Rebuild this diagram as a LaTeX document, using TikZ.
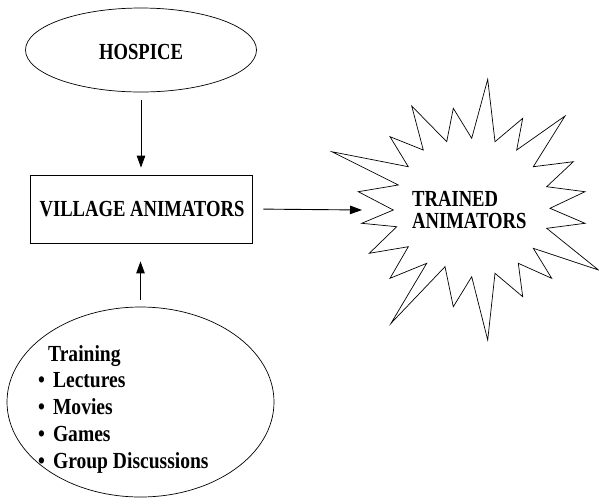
\documentclass[tikz,border=0pt]{standalone}
\usepackage{fontspec}
\setmainfont{Liberation Serif}[FakeStretch=0.81]
\newfontfamily\listfont{Liberation Serif}[FakeStretch=0.85]
\usetikzlibrary{shapes.geometric,arrows.meta}
\begin{document}
\begin{tikzpicture}[x=1pt,y=-1pt,
  label/.style={font=\fontsize{23}{26.7}\selectfont\bfseries},
  oval/.style={draw,ellipse,line width=0.7pt,inner sep=0pt},
  box/.style={draw,rectangle,line width=0.8pt,inner sep=0pt},
  arr/.style={line width=0.9pt,-{Triangle[length=12pt,width=8.5pt]}}]
\useasboundingbox (0,0) rectangle (599,499);

% source and target of the training flow
\node[oval,minimum width=231pt,minimum height=84pt] (hospice) at (141,50) {};
\node[label] at (141,52) {HOSPICE};

\node[box,minimum width=222pt,minimum height=68pt] (village) at (141,209) {};
\node[label] at (142,209.5) {VILLAGE ANIMATORS};

\node[oval,minimum width=267pt,minimum height=190pt] (training) at (140.5,402) {};
\node[label,anchor=base west,align=left,inner sep=0pt,
  font=\fontsize{23}{26.7}\listfont\bfseries] (traintext) at (38,468)
  {\hspace{10pt}Training\\\textbullet\hspace{8pt}Lectures\\\textbullet\hspace{8pt}Movies\\
   \textbullet\hspace{8pt}Games\\\textbullet\hspace{8pt}Group Discussions};

% starburst outline
\draw[line width=0.7pt] (487.7,79.3) -- (495,141.7) -- (522.7,118.3) -- (516.7,150)
  -- (565,116) -- (533.3,166.7) -- (573.3,161.7) -- (546.7,186.7) -- (585,191.7)
  -- (550,208.3) -- (585,223.3) -- (546.7,228.3) -- (598.5,270) -- (533.3,248.3)
  -- (551.7,278.3) -- (518.3,263.3) -- (522.7,296.7) -- (495,273.3) -- (487.7,340)
  -- (471.7,276.7) -- (453.3,306.7) -- (445,266.7) -- (391,323.3) -- (426.7,263.3)
  -- (390,278.3) -- (408.3,246.7) -- (369.3,253.3) -- (396.7,226.7) -- (361.7,223.3)
  -- (393.3,210) -- (358.3,191.7) -- (398.3,185) -- (331.7,151.7) -- (408.3,166.7)
  -- (390,136.7) -- (423.3,150) -- (411.7,106) -- (446.7,141.7) -- (453.3,108.3)
  -- (471.7,138.3) -- cycle;
\node[label,anchor=base west,align=left,inner sep=0pt,font=\fontsize{23}{21.5}\selectfont\bfseries]
  (trained) at (412,228) {TRAINED\\ANIMATORS};
\coordinate (burstin) at (362,210);

% connectors
\draw[arr,shorten <=8pt,shorten >=7pt] (hospice.south) -- (village.north);
\draw[arr,shorten <=7pt,shorten >=18pt] (training.north) -- (training.north |- village.south);
\draw[arr,shorten <=11pt] (village.east) -- (burstin);
\end{tikzpicture}
\end{document}
